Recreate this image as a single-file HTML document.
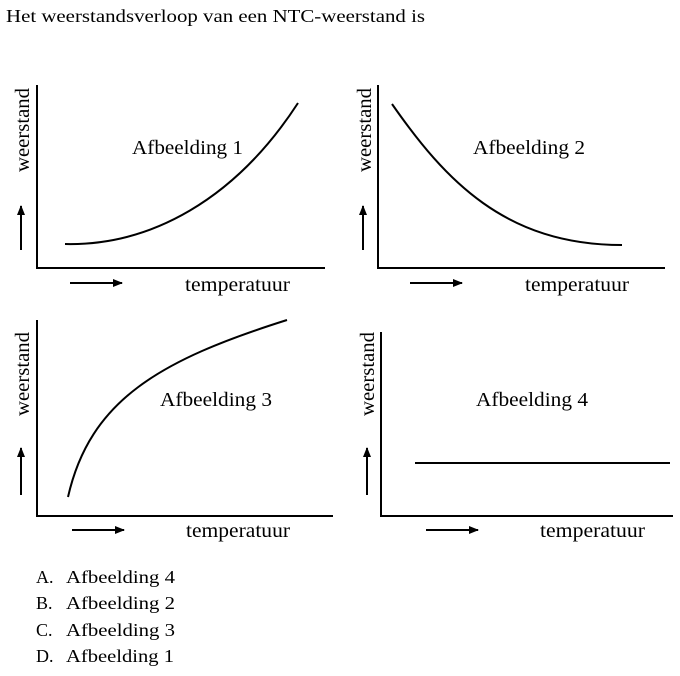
<!DOCTYPE html>
<html><head><style>
html,body{margin:0;padding:0;background:#fff;}
svg{display:block;}
text{font-family:"Liberation Serif",serif;fill:#000;}
</style></head><body>
<svg width="680" height="676" viewBox="0 0 680 676" xmlns="http://www.w3.org/2000/svg">
<defs>
<marker id="ah" markerWidth="10" markerHeight="8" refX="9" refY="4" orient="auto" markerUnits="userSpaceOnUse">
<path d="M0,0 L10,4 L0,8 Z" fill="#000"/>
</marker>
</defs>
<text x="6" y="22" font-size="18" textLength="419" lengthAdjust="spacingAndGlyphs">Het weerstandsverloop van een NTC-weerstand is</text>
<g stroke="#000" stroke-width="2" fill="none">
<path d="M37,85 V268 H325"/>
<path d="M65,244 C150,246 235,200 298,103"/>
<line x1="21" y1="250" x2="21" y2="206" marker-end="url(#ah)"/>
<line x1="70" y1="283" x2="122" y2="283" marker-end="url(#ah)"/>
<path d="M378,85 V268 H665"/>
<path d="M392,104 C445,180 505,245 622,245"/>
<line x1="363" y1="250" x2="363" y2="206" marker-end="url(#ah)"/>
<line x1="410" y1="283" x2="462" y2="283" marker-end="url(#ah)"/>
<path d="M37,320 V516 H333"/>
<path d="M68,497 C90,400 160,360 287,320"/>
<line x1="21" y1="495" x2="21" y2="448" marker-end="url(#ah)"/>
<line x1="72" y1="530" x2="124" y2="530" marker-end="url(#ah)"/>
<path d="M381,332 V516 H673"/>
<line x1="415" y1="463" x2="670" y2="463"/>
<line x1="367" y1="495" x2="367" y2="448" marker-end="url(#ah)"/>
<line x1="426" y1="530" x2="478" y2="530" marker-end="url(#ah)"/>
</g>
<g font-size="20">
<text x="132" y="154" textLength="111" lengthAdjust="spacingAndGlyphs">Afbeelding 1</text>
<text x="473" y="154" textLength="112" lengthAdjust="spacingAndGlyphs">Afbeelding 2</text>
<text x="160" y="406" textLength="112" lengthAdjust="spacingAndGlyphs">Afbeelding 3</text>
<text x="476" y="406" textLength="112" lengthAdjust="spacingAndGlyphs">Afbeelding 4</text>
<text x="185" y="291" textLength="105" lengthAdjust="spacingAndGlyphs">temperatuur</text>
<text x="525" y="291" textLength="104" lengthAdjust="spacingAndGlyphs">temperatuur</text>
<text x="186" y="537" textLength="104" lengthAdjust="spacingAndGlyphs">temperatuur</text>
<text x="540" y="537" textLength="105" lengthAdjust="spacingAndGlyphs">temperatuur</text>
<text transform="translate(29,172) rotate(-90)" textLength="84" lengthAdjust="spacingAndGlyphs">weerstand</text>
<text transform="translate(371,172) rotate(-90)" textLength="84" lengthAdjust="spacingAndGlyphs">weerstand</text>
<text transform="translate(29,416) rotate(-90)" textLength="84" lengthAdjust="spacingAndGlyphs">weerstand</text>
<text transform="translate(374,416) rotate(-90)" textLength="84" lengthAdjust="spacingAndGlyphs">weerstand</text>
</g>
<g font-size="18">
<text x="36" y="583">A.</text><text x="66" y="583" textLength="109" lengthAdjust="spacingAndGlyphs">Afbeelding 4</text>
<text x="36" y="609">B.</text><text x="66" y="609" textLength="109" lengthAdjust="spacingAndGlyphs">Afbeelding 2</text>
<text x="36" y="636">C.</text><text x="66" y="636" textLength="109" lengthAdjust="spacingAndGlyphs">Afbeelding 3</text>
<text x="36" y="662">D.</text><text x="66" y="662" textLength="108" lengthAdjust="spacingAndGlyphs">Afbeelding 1</text>
</g>
</svg>
</body></html>
